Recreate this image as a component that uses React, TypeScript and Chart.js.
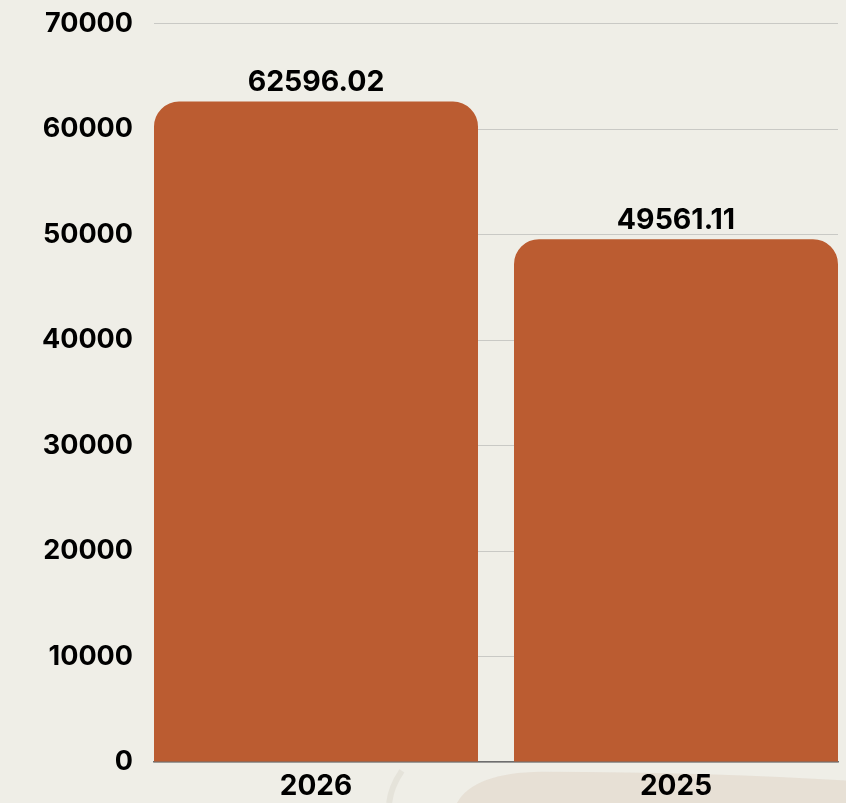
import React, { useEffect, useRef } from "react";
import { Chart, registerables } from "chart.js";

Chart.register(...registerables);

const categories: string[] = ["2026", "2025"];
const values: number[] = [62596.02, 49561.11];
const yTicks: number[] = [0, 10000, 20000, 30000, 40000, 50000, 60000, 70000];

const BG = "#efeee7";
const BAR = "#bb5c31";
const FONT = "Inter";

const bgPlugin = {
  id: "bgPlugin",
  beforeDraw(chart: any) {
    const { ctx, width, height } = chart;
    ctx.save();
    ctx.fillStyle = BG;
    ctx.fillRect(0, 0, width, height);
    // faint watermark near the bottom
    ctx.fillStyle = "rgba(205,180,160,0.24)";
    ctx.beginPath();
    ctx.moveTo(width * 0.54, height);
    ctx.quadraticCurveTo(width * 0.56, height * 0.962, width * 0.64, height * 0.961);
    ctx.quadraticCurveTo(width * 0.85, height * 0.962, width, height * 0.972);
    ctx.lineTo(width, height);
    ctx.closePath();
    ctx.fill();
    ctx.strokeStyle = "rgba(215,210,200,0.4)";
    ctx.lineWidth = 6;
    ctx.beginPath();
    ctx.moveTo(width * 0.475, height * 0.96);
    ctx.quadraticCurveTo(width * 0.462, height * 0.98, width * 0.46, height);
    ctx.stroke();
    ctx.restore();
  },
};

const labelPlugin = {
  id: "valueLabels",
  afterDatasetsDraw(chart: any) {
    const { ctx } = chart;
    const meta = chart.getDatasetMeta(0);
    ctx.save();
    ctx.font = `bold 28.5px ${FONT}`;
    ctx.fillStyle = "#000";
    ctx.textAlign = "center";
    ctx.textBaseline = "alphabetic";
    meta.data.forEach((bar: any, i: number) => {
      ctx.fillText(values[i].toFixed(2), bar.x, bar.y - 10.5);
    });
    ctx.restore();
  },
};

export default function App() {
  const ref = useRef<HTMLCanvasElement | null>(null);

  useEffect(() => {
    document.body.style.margin = "0";
    document.body.style.background = BG;
    if (!ref.current) return;
    const chart = new Chart(ref.current, {
      type: "bar",
      data: {
        datasets: [
          {
            data: values.map((v, i) => ({ x: i, y: v })),
            backgroundColor: BAR,
            borderRadius: 25,
            borderSkipped: "bottom",
            barPercentage: 0.9,
            categoryPercentage: 1,
          },
        ],
      },
      options: {
        animation: false,
        responsive: true,
        maintainAspectRatio: false,
        layout: { padding: { top: 23.5, right: 8, left: 0, bottom: 0 } },
        plugins: { legend: { display: false }, tooltip: { enabled: false } },
        scales: {
          x: {
            type: "linear",
            offset: false,
            min: -0.45,
            max: 1.45,
            afterFit: (s: any) => {
              s.height = 41;
              s.paddingLeft = 0;
              s.paddingRight = 0;
            },
            afterBuildTicks: (s: any) => {
              s.ticks = categories.map((_, i) => ({ value: i }));
            },
            grid: { display: false, drawTicks: false },
            border: { display: true, color: "#6e6e6e", width: 1.5 },
            ticks: {
              padding: 8,
              color: "#000",
              font: { family: FONT, weight: "bold", size: 28 },
              callback: (v: any) => categories[v] ?? "",
            },
          },
          y: {
            min: 0,
            max: 70000,
            afterFit: (s: any) => {
              s.width = 154;
              s.paddingTop = 0;
              s.paddingBottom = 0;
            },
            afterBuildTicks: (s: any) => {
              s.ticks = yTicks.map((v) => ({ value: v }));
            },
            grid: { color: "#c9c9c5", lineWidth: 1, drawTicks: false },
            border: { display: false },
            ticks: {
              padding: 21,
              color: "#000",
              font: { family: FONT, weight: "bold", size: 27 },
              callback: (v: any) => String(v),
            },
          },
        },
      },
      plugins: [bgPlugin, labelPlugin],
    });
    return () => chart.destroy();
  }, []);

  return (
    <div style={{ width: 846, height: 803, position: "relative" }}>
      <canvas ref={ref} />
    </div>
  );
}
